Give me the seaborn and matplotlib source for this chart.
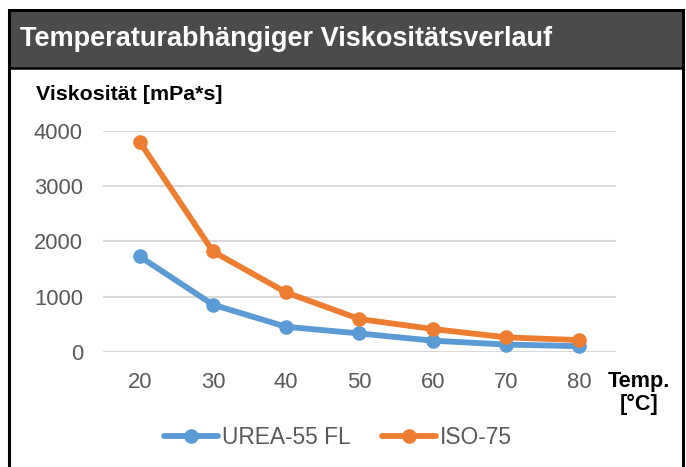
import matplotlib
matplotlib.use("Agg")
import matplotlib.pyplot as plt
from matplotlib.patches import Rectangle
import seaborn as sns
import pandas as pd

temps = [20, 30, 40, 50, 60, 70, 80]
urea = [1730, 860, 460, 340, 210, 140, 110]
iso = [3800, 1820, 1080, 600, 420, 270, 220]
series_names = ["UREA-55 FL", "ISO-75"]
colors = ["#5B9BD5", "#ED7D31"]
yticks = [0, 1000, 2000, 3000, 4000]

df = pd.DataFrame({
    "Temp": temps + temps,
    "Visc": urea + iso,
    "Serie": [series_names[0]] * len(temps) + [series_names[1]] * len(temps),
})

sns.set_theme(style="white")
plt.rcParams["font.family"] = ["Liberation Sans", "DejaVu Sans"]

W, H = 686, 467
fig = plt.figure(figsize=(W / 100, H / 100), dpi=100)
fig.patch.set_facecolor("white")

def fx(px):
    return px / W

def fy(py):
    return 1 - py / H

# header bar
fig.patches.append(Rectangle((fx(8.5), fy(67.5)), fx(682.5) - fx(8.5), fy(9.5) - fy(67.5),
                             transform=fig.transFigure, facecolor="#4b4b4b",
                             edgecolor="none", zorder=0))
# outer border
fig.patches.append(Rectangle((fx(8.5), fy(470)), fx(682.5) - fx(8.5), fy(9.5) - fy(470),
                             transform=fig.transFigure, facecolor="none",
                             edgecolor="black", linewidth=2.2, zorder=5))
# line under header
fig.add_artist(plt.Line2D([fx(8.5), fx(682.5)], [fy(68), fy(68)], transform=fig.transFigure,
                          color="black", linewidth=1.8, zorder=6))

fig.text(fx(20), fy(39), "Temperaturabhängiger Viskositätsverlauf", color="white",
         fontsize=19.5, fontweight="bold", va="center", ha="left")
fig.text(fx(36), fy(95), "Viskosität [mPa*s]", color="black",
         fontsize=15.4, fontweight="bold", va="center", ha="left")
fig.text(fx(639), fy(393), "Temp.\n[°C]", color="black", fontsize=15.6,
         fontweight="bold", va="center", ha="center", linespacing=1.08)

ax = fig.add_axes([fx(103), fy(352.3), fx(616) - fx(103), fy(130.7) - fy(352.3)])
sns.lineplot(data=df, x="Temp", y="Visc", hue="Serie", hue_order=series_names,
             palette=colors, marker="o", markersize=10.5, markeredgewidth=0,
             linewidth=4.2, ax=ax, legend=True)

ax.set_xlim(15, 85)
ax.set_ylim(0, 4000)
ax.set_xticks(temps)
ax.set_xticklabels([str(t) for t in temps])
ax.set_yticks(yticks)
ax.set_yticklabels([str(v) for v in yticks])
ax.set_xlabel("")
ax.set_ylabel("")
for s in ax.spines.values():
    s.set_visible(False)
ax.grid(axis="y", color="#d9d9d9", linewidth=1.5)
ax.grid(axis="x", visible=False)
ax.set_axisbelow(True)
ax.tick_params(axis="both", length=0, labelsize=15.8, colors="#595959")
ax.tick_params(axis="y", pad=14.4)
ax.tick_params(axis="x", pad=14.5)
for lab in ax.get_xticklabels() + ax.get_yticklabels():
    lab.set_color("#595959")
for line in ax.lines:
    line.set_clip_on(False)

handles, labels = ax.get_legend_handles_labels()
ax.legend_.remove()
leg = fig.legend(handles, labels, loc="center", bbox_to_anchor=(fx(338), fy(437)),
                 ncol=2, frameon=False, fontsize=16.4, handlelength=2.35,
                 handletextpad=0.18, columnspacing=1.4, borderaxespad=0)
for t in leg.get_texts():
    t.set_color("#595959")

fig.savefig("out.png", dpi=100, facecolor="white")
